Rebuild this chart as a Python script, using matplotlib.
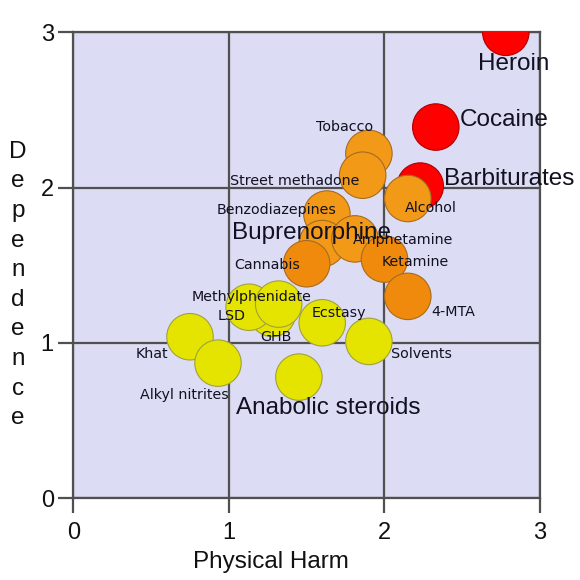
import matplotlib
matplotlib.use("Agg")
import matplotlib.pyplot as plt

# drug data: physical harm, dependence
drugs = ["Heroin", "Cocaine", "Barbiturates", "Tobacco", "Street methadone",
         "Alcohol", "Benzodiazepines", "Buprenorphine", "Amphetamine", "Ketamine",
         "Cannabis", "4-MTA", "GHB", "LSD", "Methylphenidate", "Ecstasy",
         "Solvents", "Khat", "Alkyl nitrites", "Anabolic steroids"]
physical = [2.78, 2.33, 2.23, 1.90, 1.86, 2.15, 1.63, 1.60, 1.81, 2.00,
            1.50, 2.15, 1.28, 1.13, 1.32, 1.60, 1.90, 0.75, 0.93, 1.45]
dependence = [3.00, 2.39, 2.01, 2.22, 2.08, 1.93, 1.83, 1.64, 1.67, 1.54,
              1.51, 1.30, 1.19, 1.23, 1.25, 1.13, 1.01, 1.04, 0.87, 0.78]
group = ["r", "r", "r", "o", "o", "o", "o", "o", "o", "d",
         "d", "d", "y", "y", "y", "y", "y", "y", "y", "y"]

ticks = [0, 1, 2, 3]

fill = {"r": "#ff0000", "o": "#f29a17", "d": "#f08a0c", "y": "#e4e400"}
edge = {"r": "#b00000", "o": "#a86a20", "d": "#a86a20", "y": "#a0a040"}

big = {"Heroin", "Cocaine", "Barbiturates", "Buprenorphine", "Anabolic steroids"}

# label offsets in pixels (left edge, baseline) from circle centre
offsets = {
    "Heroin": (-28, -38), "Cocaine": (24, 1), "Barbiturates": (24, 1),
    "Tobacco": (-53, 22), "Street methadone": (-133, -10), "Alcohol": (-3, -13),
    "Benzodiazepines": (-110, 0), "Buprenorphine": (-90, 5),
    "Amphetamine": (-2, -5), "Ketamine": (-3, -7), "Cannabis": (-72, -5),
    "4-MTA": (24, -20), "GHB": (-12, -28), "LSD": (-31, -13),
    "Methylphenidate": (-87, 3), "Ecstasy": (-11, 6), "Solvents": (22, -17),
    "Khat": (-54, -21), "Alkyl nitrites": (-78, -36), "Anabolic steroids": (-63, -37),
}

fig = plt.figure(figsize=(5.8, 5.8), dpi=100)
ax = fig.add_axes([0.1264, 0.1409, 0.8047, 0.8034])
ax.set_facecolor("#dcdcf4")

ax.set_xlim(0, 3)
ax.set_ylim(0, 3)
ax.set_xticks(ticks)
ax.set_yticks(ticks)
ax.grid(True, color="#505050", linewidth=1.6, zorder=1)
ax.set_axisbelow(True)
for s in ax.spines.values():
    s.set_color("#505050")
    s.set_linewidth(1.6)
ax.tick_params(direction="out", length=11, width=1.6, color="#505050",
               labelsize=17, labelcolor="#111111")
ax.tick_params(axis="x", pad=6)
ax.tick_params(axis="y", pad=3)
for lab in ax.get_xticklabels() + ax.get_yticklabels():
    lab.set_family("Liberation Sans")

# one collection, drawn in list order, clipped to the plot area
ax.scatter(physical, dependence, s=1120,
           c=[fill[g] for g in group], edgecolors=[edge[g] for g in group],
           linewidths=0.8, zorder=3)

for i, name in enumerate(drugs):
    dx, dy = offsets[name]
    if name in big:
        fam, size = "Liberation Sans", 17.5
    else:
        fam, size = "DejaVu Sans", 10.3
    ax.annotate(name, (physical[i], dependence[i]), xytext=(dx, dy),
                textcoords="offset pixels", ha="left", va="baseline",
                fontsize=size, family=fam, color="#111122", zorder=10,
                annotation_clip=False)

fig.text(271 / 580, 1 - 568 / 580, "Physical Harm", ha="center", va="baseline",
         fontsize=17.5, family="Liberation Sans", color="#111111")
fig.text(18 / 580, 1 - 285 / 580, "\n".join("Dependence"), ha="center",
         va="center", fontsize=17.5, family="Liberation Sans",
         color="#111111", linespacing=1.45)

fig.savefig("out.png", dpi=100)
